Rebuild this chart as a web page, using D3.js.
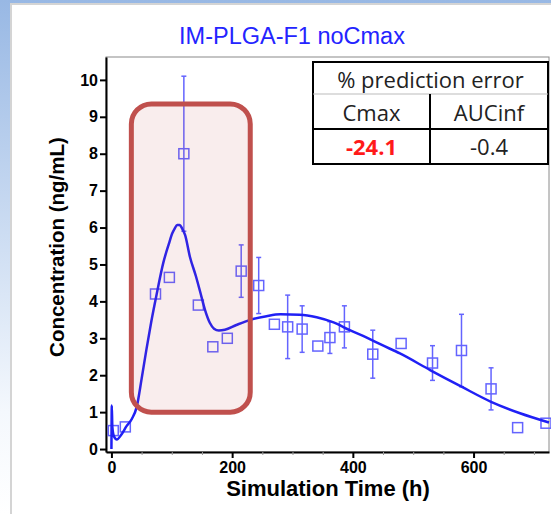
<!DOCTYPE html>
<html>
<head>
<meta charset="utf-8">
<script src="https://cdn.jsdelivr.net/npm/d3@7"></script>
<style>
  body { margin: 0; background: #fff; }
  svg { display: block; }
</style>
</head>
<body>
<script>
// observed data (mean, SD)
var obsTime = [3, 23, 73, 96, 120, 144, 168, 192, 215, 244, 270, 292, 316, 342, 362, 386, 433, 480, 532, 580, 629, 673, 720];
var obsConc = [0.5, 0.6, 4.2, 4.65, 8.0, 3.9, 2.77, 3.0, 4.82, 4.43, 3.38, 3.31, 3.25, 2.79, 3.02, 3.31, 2.57, 2.86, 2.33, 2.67, 1.63, 0.58, 0.7];
var obsSD   = [0, 0, 0, 0, 2.1, 0, 0, 0, 0.71, 0.76, 0, 0.86, 0.63, 0, 0.43, 0.57, 0.65, 0, 0.47, 0.98, 0.57, 0, 0];

// simulated profile
var simTime = [0, 0.6, 1.5, 4, 9, 16, 25, 34, 42, 50, 58, 66, 75, 86, 95, 101, 105, 109, 113, 117, 122, 130, 140, 147, 155, 163, 170, 178, 188, 207, 230, 257, 280, 312, 340, 368, 395, 423, 448, 478, 528, 580, 629, 677, 725];
var simConc = [0, 1.18, 0.6, 0.35, 0.26, 0.38, 0.62, 0.82, 1.15, 1.9, 2.7, 3.45, 4.2, 5.05, 5.55, 5.85, 5.98, 6.07, 6.07, 5.98, 5.8, 5.21, 4.68, 4.26, 3.77, 3.42, 3.26, 3.21, 3.23, 3.36, 3.5, 3.6, 3.65, 3.64, 3.57, 3.43, 3.22, 3.02, 2.82, 2.59, 2.14, 1.69, 1.28, 0.97, 0.72];

var xMajor = [0, 200, 400, 600];
var xMinor = [50, 100, 150, 250, 300, 350, 450, 500, 550, 650, 700];
var yTicks = [0, 1, 2, 3, 4, 5, 6, 7, 8, 9, 10];

// highlighted region (time, conc)
var boxTime = [33, 230];
var boxConc = [1.0, 9.35];

// prediction error table
var tableHead = "% prediction error";
var tableCols = ["Cmax", "AUCinf"];
var tableVals = ["-24.1", "-0.4"];

var width = 551
var height = 514

var svg = d3.select("body")
	.append("svg")
	.attr("width", width)
	.attr("height", height);

// slide background
var grad = svg.append("defs").append("linearGradient")
	.attr("id", "bg").attr("x1", 0).attr("y1", 0).attr("x2", 0).attr("y2", 1);
grad.append("stop").attr("offset", "0%").attr("stop-color", "#98b8e4");
grad.append("stop").attr("offset", "80%").attr("stop-color", "#f4f8fd");
grad.append("stop").attr("offset", "100%").attr("stop-color", "#ffffff");

svg.append("rect").attr("width", width).attr("height", height).attr("fill", "url(#bg)");
svg.append("rect")
	.attr("x", 11).attr("y", 4)
	.attr("width", width).attr("height", height)
	.attr("fill", "#fff")
	.attr("stroke", "#d4d4d4")
	.attr("stroke-width", 2);

var x = d3.scaleLinear().domain([-9, 725]).range([106, 549]);
var y = d3.scaleLinear().domain([-0.08, 10.62]).range([452, 57]);

// plot frame
svg.append("rect")
	.attr("x", 106).attr("y", 57)
	.attr("width", 443).attr("height", 395)
	.attr("fill", "none")
	.attr("stroke", "#8a8a8a")
	.attr("stroke-width", 1);

var font = "'Liberation Sans', Arial, sans-serif";

// axes
var yAxis = svg.append("g")
	.attr("transform", "translate(106,0)")
	.call(d3.axisLeft(y).tickValues(yTicks).tickSize(6).tickSizeOuter(0).tickPadding(2));

var xAxis = svg.append("g")
	.attr("transform", "translate(0,452)")
	.call(d3.axisBottom(x).tickValues(xMajor).tickSize(6).tickSizeOuter(0).tickPadding(4));

var xAxisMinor = svg.append("g")
	.attr("transform", "translate(0,452)")
	.call(d3.axisBottom(x).tickValues(xMinor).tickSize(3).tickSizeOuter(0).tickFormat(""));
xAxisMinor.select(".domain").remove();
xAxisMinor.selectAll("line").attr("stroke", "#999");

[yAxis, xAxis].forEach(function(g) {
	g.select(".domain").attr("stroke", "#000").attr("stroke-width", 2);
	g.selectAll(".tick line").attr("stroke", "#000").attr("stroke-width", 2);
	g.selectAll("text")
		.attr("font-family", font)
		.attr("font-weight", "bold")
		.attr("font-size", 16)
		.attr("fill", "#000");
});

// axis titles
svg.append("text")
	.attr("x", 328).attr("y", 496)
	.attr("text-anchor", "middle")
	.attr("font-family", font)
	.attr("font-weight", "bold")
	.attr("font-size", 22)
	.text("Simulation Time (h)");

svg.append("text")
	.attr("transform", "translate(64,247) rotate(-90)")
	.attr("text-anchor", "middle")
	.attr("font-family", font)
	.attr("font-weight", "bold")
	.attr("font-size", 20.5)
	.text("Concentration (ng/mL)");

// title
svg.append("text")
	.attr("x", 292).attr("y", 44)
	.attr("text-anchor", "middle")
	.attr("font-family", font)
	.attr("font-size", 23.5)
	.attr("fill", "#2424ff")
	.text("IM-PLGA-F1 noCmax");

// observed points
var obs = obsTime.map(function(t, i) {
	return {t: t, c: obsConc[i], sd: obsSD[i]};
});

var bars = svg.append("g")
	.attr("stroke", "#6464ff")
	.attr("stroke-width", 1.5)
	.attr("fill", "none");

obs.filter(function(d) { return d.sd > 0; }).forEach(function(d) {
	var x0 = x(d.t);
	bars.append("line")
		.attr("x1", x0).attr("x2", x0)
		.attr("y1", y(d.c - d.sd)).attr("y2", y(d.c + d.sd));
	[d.c - d.sd, d.c + d.sd].forEach(function(v) {
		bars.append("line")
			.attr("x1", x0 - 2.5).attr("x2", x0 + 2.5)
			.attr("y1", y(v)).attr("y2", y(v));
	});
});

bars.selectAll("rect")
	.data(obs)
	.enter()
	.append("rect")
	.attr("x", function(d) { return x(d.t) - 5; })
	.attr("y", function(d) { return y(d.c) - 5; })
	.attr("width", 10)
	.attr("height", 10);

// simulated line
var sim = simTime.map(function(t, i) { return [t, simConc[i]]; });
var line = d3.line()
	.x(function(d) { return x(d[0]); })
	.y(function(d) { return y(d[1]); })
	.curve(d3.curveMonotoneX);

svg.append("path")
	.datum(sim)
	.attr("d", line)
	.attr("fill", "none")
	.attr("stroke", "#2020f5")
	.attr("stroke-width", 2.5);

// highlight box
svg.append("rect")
	.attr("x", x(boxTime[0]))
	.attr("y", y(boxConc[1]))
	.attr("width", x(boxTime[1]) - x(boxTime[0]))
	.attr("height", y(boxConc[0]) - y(boxConc[1]))
	.attr("rx", 20)
	.attr("fill", "#c0504d")
	.attr("fill-opacity", 0.1)
	.attr("stroke", "#c0504d")
	.attr("stroke-width", 5);

// table
var tx0 = 313, tx1 = 430, tx2 = 548;
var ty0 = 62, ty1 = 94, ty2 = 129, ty3 = 164;
var table = svg.append("g");

table.append("rect")
	.attr("x", tx0).attr("y", ty0)
	.attr("width", tx2 - tx0).attr("height", ty3 - ty0)
	.attr("fill", "#fff")
	.attr("stroke", "#000")
	.attr("stroke-width", 2);
table.append("line")
	.attr("x1", tx0).attr("x2", tx2).attr("y1", ty1).attr("y2", ty1)
	.attr("stroke", "#bbb").attr("stroke-width", 1);
table.append("line")
	.attr("x1", tx0).attr("x2", tx2).attr("y1", ty2).attr("y2", ty2)
	.attr("stroke", "#000").attr("stroke-width", 2);
table.append("line")
	.attr("x1", tx1).attr("x2", tx1).attr("y1", ty1).attr("y2", ty3)
	.attr("stroke", "#000").attr("stroke-width", 2);

var tfont = "'Open Sans', Lato, sans-serif";
table.append("text")
	.attr("x", (tx0 + tx2) / 2).attr("y", 88)
	.attr("text-anchor", "middle")
	.attr("font-family", tfont).attr("font-size", 22)
	.attr("fill", "#222")
	.text(tableHead);

[tx0, tx1].forEach(function(left, i) {
	var right = i == 0 ? tx1 : tx2;
	table.append("text")
		.attr("x", (left + right) / 2).attr("y", 121)
		.attr("text-anchor", "middle")
		.attr("font-family", tfont).attr("font-size", 22)
		.attr("fill", "#222")
		.text(tableCols[i]);
	table.append("text")
		.attr("x", (left + right) / 2).attr("y", 155)
		.attr("text-anchor", "middle")
		.attr("font-family", tfont).attr("font-size", 22)
		.attr("font-weight", i == 0 ? "bold" : "normal")
		.attr("fill", i == 0 ? "#ff1a1a" : "#222")
		.text(tableVals[i]);
});
</script>
</body>
</html>
